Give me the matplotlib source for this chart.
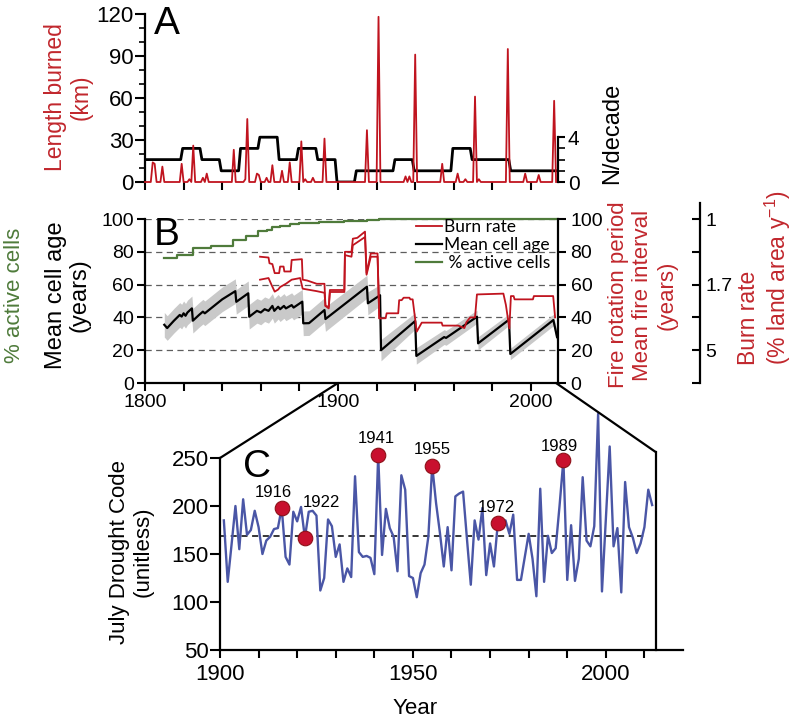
import numpy as np
import matplotlib
matplotlib.use("Agg")
import matplotlib.pyplot as plt
from matplotlib.patches import ConnectionPatch

plt.rcParams['font.family'] = ['Liberation Sans', 'DejaVu Sans']
plt.rcParams['mathtext.default'] = 'regular'

RED = '#c0141f'
LABEL_RED = '#c1272d'
GREEN = '#4f7b3b'
BLUE = '#4a56a6'

# ---- panel A: fires (length burned) and fires per decade
fire_years = [1804, 1805, 1809, 1819, 1823, 1825, 1830, 1832, 1846, 1852, 1853, 1858, 1859,
              1863, 1866, 1871, 1875, 1881, 1883, 1887, 1893, 1915, 1921, 1935, 1937, 1940,
              1954, 1962, 1966, 1971, 1973, 1988, 1997, 2004, 2012]
fire_km = [14, 13, 11, 13, 2, 26, 3, 6, 23, 2, 45, 6, 5,
           3, 12, 8, 14, 29, 2, 3, 31, 37, 118, 4, 4, 91,
           13, 6, 2, 61, 2, 95, 6, 5, 58]
decades = list(range(1800, 2020, 10))
fires_per_decade = [2, 2, 3, 2, 1, 3, 4, 2, 3, 2, 0, 1, 1, 2, 1, 1, 3, 2, 2, 1, 1, 1]

# ---- panel B: mean cell age (with uncertainty), burn rate, % active cells
age_years = [1810, 1811.5, 1815, 1818, 1819, 1820, 1821, 1822, 1824.3, 1824.8, 1828, 1830,
             1831, 1840, 1846.8, 1847.3, 1853.5, 1854, 1858, 1860, 1862, 1864, 1866, 1867,
             1869, 1870, 1872, 1873, 1876, 1877, 1881.5, 1882, 1885, 1893, 1893.5, 1915,
             1915.5, 1921.8, 1922.3, 1940, 1940.6, 1955, 1956, 1972, 1972.6, 1988.6, 1989.3,
             2011.6, 2013.5]
age_vals = [35.5, 33.5, 38, 41.5, 40.5, 42.5, 41, 43, 45.5, 38, 41.5, 43.5,
            42.5, 51, 56, 49.5, 54.7, 40.4, 44, 43, 45, 44, 47, 44,
            46.5, 45, 47, 45.5, 47.5, 46, 49.6, 36.4, 36.5, 44.5, 39, 58.7,
            48.6, 53.5, 20, 37.8, 16.5, 28, 27.5, 40.4, 24.2, 38.6, 17.7,
            38.4, 28]
age_err = [7.5] * 35 + [7, 7, 6.5, 6.5, 5, 5, 4.5, 4.5, 4, 4, 3.5, 3.5, 3.5, 3.5]

burn_hi_years = [1859.6, 1864, 1864.5, 1866, 1867.2, 1869.5, 1870, 1871.8, 1872.2, 1875.5,
                 1876, 1881.3, 1881.7, 1884, 1889, 1893, 1893.5, 1895.2, 1895.8, 1903.3,
                 1903.6, 1907, 1907.7, 1910, 1914, 1914.8, 1917, 1920.5, 1921.4]
burn_hi_vals = [77, 76.5, 73, 72.5, 67, 67, 71, 71, 68, 68,
                75, 75.5, 63, 62.5, 60.5, 60.5, 47, 46.5, 56.7, 56.7,
                80, 80, 88, 88.5, 92.3, 67, 79, 79, 39.5]
burn_lo_years = [1859.6, 1864, 1865.5, 1867.2, 1869, 1870, 1873, 1876, 1880.4, 1881.7,
                 1889, 1893, 1893.5, 1895.2, 1895.8, 1903.3, 1903.6, 1907, 1907.7, 1914,
                 1914.8, 1917, 1920.5, 1921.4]
burn_lo_vals = [63, 64, 60, 55.7, 57, 58.5, 60.5, 63, 64, 57.5,
                56, 55, 47, 45.5, 55.5, 55.5, 78, 77, 84, 89,
                66, 77, 77, 39.5]
burn_tail_years = [1922, 1924.7, 1925.2, 1931.2, 1931.7, 1933, 1934, 1937, 1937.5, 1938.7,
                   1940.8, 1943.4, 1953.7, 1954.2, 1962.3, 1965.5, 1966.5, 1968.5, 1971, 1972,
                   1985.7, 1987, 1988.8, 1989.6, 1991, 1991.5, 2001, 2001.5, 2011.5, 2012.5]
burn_tail_vals = [39.4, 39.5, 42.5, 42.5, 50.5, 50.5, 52, 52, 51, 51,
                  31.3, 36.8, 36.8, 35, 35, 33.5, 37, 40, 40, 54,
                  54.5, 47.6, 33.3, 53, 53, 51, 51, 53, 53, 40]

active_years = [1810, 1816.5, 1825, 1834, 1845.5, 1852.5, 1858.5, 1863, 1866, 1870, 1875,
                1880, 1890, 1903, 1915, 1921, 1926, 2013.5]
active_pct = [76, 78, 82.5, 83.5, 87.5, 89.5, 92.5, 93.5, 95, 96, 96.8,
              97.5, 98, 98.5, 99.2, 99.7, 100, 100]

# ---- panel C: July Drought Code
dc_years = list(range(1901, 2013))
dc_values = [185, 121, 160, 200, 155, 207, 170, 175, 195, 178,
             150, 164, 168, 176, 177, 198, 147, 139, 194, 184,
             199, 167, 194, 195, 190, 112, 125, 186, 179, 147,
             160, 121, 135, 126, 231, 152, 147, 148, 146, 129,
             253, 149, 197, 177, 168, 132, 232, 217, 127, 125,
             105, 130, 139, 168, 242, 203, 172, 137, 178, 133,
             210, 213, 215, 166, 118, 185, 165, 198, 128, 161,
             137, 182, 180, 185, 171, 191, 123, 123, 147, 171,
             145, 106, 218, 121, 169, 151, 156, 200, 248, 123,
             180, 122, 145, 230, 164, 158, 179, 296, 111, 186,
             262, 158, 177, 110, 225, 178, 167, 151, 161, 178,
             217, 201]
dc_mean = 169
highlight_years = [1916, 1922, 1941, 1955, 1972, 1989]
highlight_offsets = [(-6, 11), (12, 25), (-1, 12), (0, 11.5), (-1, 11.5), (-3, 10)]

W, H = 793, 722
fig = plt.figure(figsize=(W / 100, H / 100), dpi=100)


def box(l, t, r, b):
    return [l / W, 1 - b / H, (r - l) / W, (b - t) / H]


def ftext(x, y, s, **kw):
    fig.text(x / W, 1 - y / H, s, ha='center', va='center', **kw)


# ================= A =================
axA = fig.add_axes(box(145, 14, 558, 182))
axA2 = axA.twinx()
years = np.arange(1800, 2014)
burned = np.zeros(years.size)
burned[np.searchsorted(years, fire_years)] = fire_km
axA.plot(years, burned, color=RED, lw=1.3, clip_on=False, zorder=3)

step_x, step_y = [], []
for d, n in zip(decades, fires_per_decade):
    step_x += [max(d - 0.5, 1800), min(d + 8.5, 2013)]
    step_y += [n, n]
axA2.plot(step_x, step_y, color='black', lw=2.0)

axA.set_xlim(1800, 2014)
axA.set_ylim(0, 120)
axA2.set_ylim(0, 15)
axA.set_zorder(axA2.get_zorder() + 1)
axA.patch.set_visible(False)
for s in ['top', 'right', 'bottom']:
    axA.spines[s].set_visible(False)
for s in ['top', 'left', 'bottom']:
    axA2.spines[s].set_visible(False)
axA.spines['left'].set_linewidth(1.6)
axA2.spines['right'].set_linewidth(1.6)
axA2.spines['right'].set_bounds(0, 4)
axA.set_yticks([0, 30, 60, 90, 120])
axA.set_yticks(np.arange(0, 121, 10), minor=True)
axA.set_xticks(range(1800, 2020, 20))
axA.set_xticklabels([])
axA.tick_params(axis='y', which='major', length=7, width=1.5, labelsize=16, pad=1)
axA.tick_params(axis='y', which='minor', length=4, width=1.2)
axA.tick_params(axis='x', length=6, width=1.5)
axA2.set_yticks([0, 4])
axA2.set_yticks([1, 2, 3], minor=True)
axA2.tick_params(axis='y', which='major', length=5, width=1.5, labelsize=15, pad=2)
axA2.tick_params(axis='y', which='minor', length=5, width=1.2)
ftext(68, 97, 'Length burned\n(km)', color=LABEL_RED, fontsize=16.5, rotation=90,
      linespacing=1.15)
ftext(612, 133, 'N/decade', color='black', fontsize=17, rotation=90)
ftext(167, 24, 'A', fontsize=28)

# ================= B =================
axB = fig.add_axes(box(145, 219, 558, 383))
axB.set_xlim(1800, 2014)
axB.set_ylim(0, 100)
for g in [20, 40, 60, 80, 100]:
    axB.axhline(g, color='#5e5e5e', lw=0.9, ls=(0, (5, 3.5)), zorder=0)
age_y = np.array(age_vals)
age_e = np.array(age_err)
axB.fill_between(age_years, age_y - age_e, age_y + age_e, color='#c9c9c9', lw=0, zorder=1)
l_age, = axB.plot(age_years, age_vals, color='black', lw=1.6, zorder=3)
l_burn, = axB.plot(burn_hi_years + burn_tail_years, burn_hi_vals + burn_tail_vals,
                   color=RED, lw=1.3, zorder=4)
axB.plot(burn_lo_years, burn_lo_vals, color=RED, lw=1.3, zorder=4)
l_act, = axB.plot(active_years, active_pct, color=GREEN, lw=1.6, zorder=4,
                  drawstyle='steps-post', clip_on=False)
for s in ['top', 'right']:
    axB.spines[s].set_visible(False)
axB.spines['left'].set_linewidth(1.6)
axB.spines['bottom'].set_linewidth(1.6)
axB.set_yticks(range(0, 101, 20))
axB.set_xticks(range(1800, 2020, 20))
axB.set_xticklabels(['1800', '', '', '', '', '1900', '', '', '', '', '2000'])
axB.tick_params(axis='y', length=6, width=1.5, labelsize=14, pad=2)
axB.tick_params(axis='x', length=6, width=1.5, labelsize=14, pad=2)

axB2 = axB.twinx()
axB2.set_ylim(0, 100)
for s in ['top', 'left', 'bottom']:
    axB2.spines[s].set_visible(False)
axB2.spines['right'].set_linewidth(1.6)
axB2.set_yticks(range(0, 101, 20))
axB2.tick_params(axis='y', length=6, width=1.5, labelsize=14, pad=3)

axB3 = axB.twinx()
axB3.set_ylim(0, 100)
for s in ['top', 'left', 'bottom']:
    axB3.spines[s].set_visible(False)
axB3.spines['right'].set_position(('axes', (700 - 145) / 413))
axB3.spines['right'].set_linewidth(1.6)
axB3.spines['right'].set_bounds(0, 110)
axB3.set_yticks(range(0, 101, 20))
axB3.set_yticklabels(['', '5', '', '1.7', '', '1'])
axB3.tick_params(axis='y', direction='in', length=6, width=1.5, labelsize=14, pad=4)

axB.legend([l_burn, l_age, l_act], ['Burn rate', 'Mean cell age', ' % active cells'],
           loc='upper left', bbox_to_anchor=(0.655, 1.0), frameon=False,
           prop={'family': 'Lato', 'size': 12.5}, handlelength=1.5, handletextpad=0.15,
           labelspacing=0.12, borderpad=0, borderaxespad=0)

ftext(68, 295, 'Mean cell age\n(years)', fontsize=17, rotation=90, linespacing=1.1)
ftext(14, 295, '% active cells', color=GREEN, fontsize=16, rotation=90)
ftext(643, 295, 'Fire rotation period\nMean fire interval\n(years)', color=LABEL_RED,
      fontsize=16, rotation=90, linespacing=1.2)
fig.text(765 / W, 1 - 278 / H, 'Burn rate\n(% land area y$^{-1}$)', color=LABEL_RED,
         fontsize=16.5, rotation=90, ha='center', va='center', multialignment='left',
         linespacing=1.1)
ftext(167, 235, 'B', fontsize=28)

# ================= C =================
axC = fig.add_axes(box(220, 410, 683, 650))
axC.set_xlim(1900, 2020)
axC.set_ylim(50, 300)
axC.plot(dc_years, dc_values, color=BLUE, lw=1.7, zorder=2)
axC.hlines(dc_mean, 1900, 2010, colors='black', linestyles=(0, (4, 3)), lw=1.1, zorder=1)
hl_vals = [dc_values[dc_years.index(y)] for y in highlight_years]
axC.scatter(highlight_years, hl_vals, s=110, color='#c8102e', edgecolor='#8e1018',
            linewidth=0.8, zorder=4)
for y, v, off in zip(highlight_years, hl_vals, highlight_offsets):
    axC.annotate(str(y), (y, v), xytext=off, textcoords='offset points',
                 ha='center', va='center', fontsize=12)
for s in ['top', 'right']:
    axC.spines[s].set_visible(False)
axC.spines['left'].set_bounds(50, 250)
axC.spines['left'].set_linewidth(1.6)
axC.spines['bottom'].set_linewidth(1.6)
axC.set_yticks(range(50, 251, 50))
axC.set_xticks([1900, 1950, 2000])
axC.set_xticks(range(1900, 2020, 10), minor=True)
axC.tick_params(axis='y', length=7, width=1.5, labelsize=16, pad=1)
axC.tick_params(axis='x', which='both', length=6, width=1.5, labelsize=16, pad=4)
axC.set_xlabel('Year', fontsize=16)
axC.xaxis.set_label_coords((415 - 220) / 463, -0.2)
ftext(131, 552, 'July Drought Code\n(unitless)', fontsize=16, rotation=90, linespacing=1.15)
ftext(257, 467, 'C', fontsize=28)

# zoom lines linking C to B
zoom_start, zoom_end, zoom_top = 1900, 2013, 256
axC.plot([zoom_end, zoom_end], [50, zoom_top], color='black', lw=1.6, clip_on=False)
for xa, ya in [(zoom_start, 250), (zoom_end, zoom_top)]:
    con = ConnectionPatch(xyA=(xa, ya), coordsA=axC.transData, xyB=(xa, 0),
                          coordsB=axB.transData, color='black', lw=1.6)
    fig.add_artist(con)

fig.savefig('out.png', dpi=100)
